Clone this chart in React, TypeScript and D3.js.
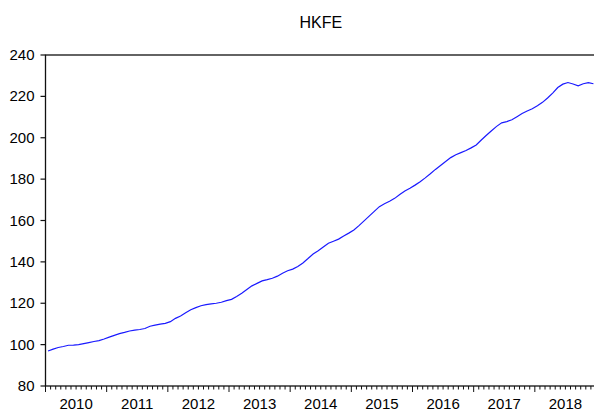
import React, { useEffect, useRef } from "react";
import * as d3 from "d3";

const title = "HKFE";
const yearLabels = ["2010", "2011", "2012", "2013", "2014", "2015", "2016", "2017", "2018"];
const yTicks = [80, 100, 120, 140, 160, 180, 200, 220, 240];

// monthly values, Jan 2010 .. Dec 2018
const hkfe2010 = [96.9, 97.8, 98.6, 99.1, 99.7, 99.8, 100.0, 100.5, 101.0, 101.5, 101.9, 102.7];
const hkfe2011 = [103.6, 104.5, 105.3, 105.9, 106.6, 107.0, 107.3, 107.8, 108.9, 109.4, 109.9, 110.3];
const hkfe2012 = [111.1, 112.7, 113.8, 115.4, 116.9, 117.9, 118.8, 119.3, 119.7, 120.0, 120.5, 121.3];
const hkfe2013 = [121.9, 123.3, 124.8, 126.6, 128.4, 129.6, 130.8, 131.4, 132.1, 133.1, 134.5, 135.7];
const hkfe2014 = [136.5, 137.8, 139.5, 141.6, 143.8, 145.4, 147.2, 149.0, 150.0, 151.0, 152.5, 153.9];
const hkfe2015 = [155.4, 157.5, 159.8, 162.1, 164.4, 166.7, 168.1, 169.3, 170.7, 172.6, 174.3, 175.6];
const hkfe2016 = [177.1, 178.7, 180.6, 182.6, 184.7, 186.6, 188.5, 190.4, 191.8, 192.8, 193.8, 195.1];
const hkfe2017 = [196.5, 198.9, 201.2, 203.4, 205.5, 207.2, 207.8, 208.7, 210.2, 211.7, 212.9, 214.0];
const hkfe2018 = [215.5, 217.1, 219.2, 221.6, 224.3, 225.9, 226.7, 226.0, 225.1, 226.1, 226.6, 226.1];

const values = [
  ...hkfe2010, ...hkfe2011, ...hkfe2012, ...hkfe2013, ...hkfe2014,
  ...hkfe2015, ...hkfe2016, ...hkfe2017, ...hkfe2018,
];

const W = 594;
const H = 414;
const margin = { left: 45.5, right: 596, top: 55, bottom: 386 };
const font = "'Liberation Sans', Arial, sans-serif";

const App = () => {
  const ref = useRef<SVGSVGElement>(null);

  useEffect(() => {
    if (!ref.current) return;
    const svg = d3.select(ref.current);
    svg.selectAll("*").remove();

    const nMonths = yearLabels.length * 12;
    const x = d3.scaleLinear().domain([0, nMonths]).range([margin.left, margin.right]);
    const y = d3.scaleLinear().domain([80, 240]).range([margin.bottom, margin.top]);

    // title
    svg.append("text")
      .attr("x", (margin.left + margin.right) / 2)
      .attr("y", 28)
      .attr("text-anchor", "middle")
      .attr("font-family", font)
      .attr("font-size", 16)
      .attr("fill", "#000")
      .text(title);

    const g = svg.append("g");

    // frame
    g.append("rect")
      .attr("x", margin.left)
      .attr("y", margin.top)
      .attr("width", margin.right - margin.left)
      .attr("height", margin.bottom - margin.top)
      .attr("fill", "none")
      .attr("stroke", "#111")
      .attr("stroke-width", 1.3);

    // y ticks + labels
    g.selectAll(".ytick")
      .data(yTicks)
      .join("line")
      .attr("x1", margin.left - 5)
      .attr("x2", margin.left)
      .attr("y1", (d) => y(d))
      .attr("y2", (d) => y(d))
      .attr("stroke", "#111")
      .attr("stroke-width", 1.2);

    g.selectAll(".ylab")
      .data(yTicks)
      .join("text")
      .attr("x", margin.left - 11)
      .attr("y", (d) => y(d) + 5)
      .attr("text-anchor", "end")
      .attr("font-family", font)
      .attr("font-size", 15)
      .attr("fill", "#000")
      .text((d) => d);

    // x ticks: monthly minor, yearly major
    const months = d3.range(0, nMonths + 1);
    g.selectAll(".xtick")
      .data(months)
      .join("line")
      .attr("x1", (d) => x(d))
      .attr("x2", (d) => x(d))
      .attr("y1", margin.bottom)
      .attr("y2", (d) => margin.bottom + (d % 12 === 0 ? 6 : 3.5))
      .attr("stroke", "#111")
      .attr("stroke-width", 1);

    g.selectAll(".xlab")
      .data(yearLabels)
      .join("text")
      .attr("x", (_d, i) => x(i * 12 + 6))
      .attr("y", margin.bottom + 23)
      .attr("text-anchor", "middle")
      .attr("font-family", font)
      .attr("font-size", 15)
      .attr("fill", "#000")
      .text((d) => d);

    // series
    const line = d3.line<number>()
      .x((_d, i) => x(i + 0.5))
      .y((d) => y(d));

    g.append("path")
      .datum(values)
      .attr("d", line)
      .attr("fill", "none")
      .attr("stroke", "#1a1aff")
      .attr("stroke-width", 1.2);
  }, []);

  return (
    <svg
      ref={ref}
      width={W}
      height={H}
      style={{ position: "absolute", left: 0, top: 0, background: "#fff" }}
    />
  );
};

export default App;
